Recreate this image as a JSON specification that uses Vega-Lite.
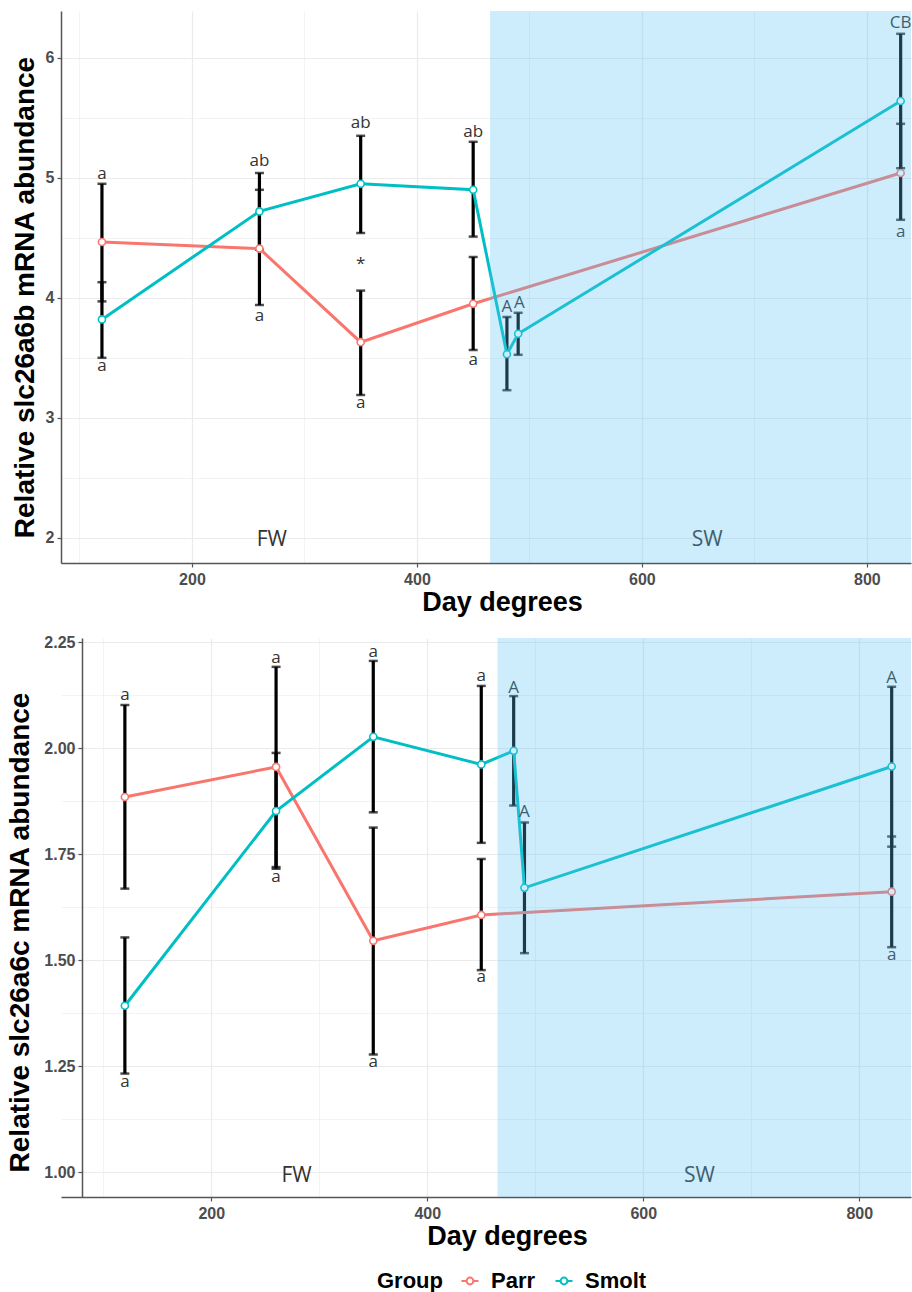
{
  "$schema": "https://vega.github.io/schema/vega-lite/v6.json",
  "background": "white",
  "padding": {"left": 6, "top": 11, "right": 0, "bottom": 0},
  "spacing": 19,
  "datasets": {
    "d1": [
      {"day": 120, "Group": "Parr", "mean": 4.465, "lo": 3.97, "hi": 4.95},
      {"day": 260, "Group": "Parr", "mean": 4.41, "lo": 3.94, "hi": 4.90},
      {"day": 350, "Group": "Parr", "mean": 3.63, "lo": 3.19, "hi": 4.06},
      {"day": 450, "Group": "Parr", "mean": 3.95, "lo": 3.565, "hi": 4.34},
      {"day": 830, "Group": "Parr", "mean": 5.04, "lo": 4.65, "hi": 5.45},
      {"day": 120, "Group": "Smolt", "mean": 3.82, "lo": 3.50, "hi": 4.13},
      {"day": 260, "Group": "Smolt", "mean": 4.72, "lo": 4.40, "hi": 5.04},
      {"day": 350, "Group": "Smolt", "mean": 4.95, "lo": 4.54, "hi": 5.35},
      {"day": 450, "Group": "Smolt", "mean": 4.90, "lo": 4.51, "hi": 5.30},
      {"day": 480, "Group": "Smolt", "mean": 3.53, "lo": 3.23, "hi": 3.84},
      {"day": 490, "Group": "Smolt", "mean": 3.70, "lo": 3.525, "hi": 3.875},
      {"day": 830, "Group": "Smolt", "mean": 5.64, "lo": 5.08, "hi": 6.20}
    ],
    "t1": [
      {"day": 120, "y": 5.03, "label": "a"},
      {"day": 120, "y": 3.43, "label": "a"},
      {"day": 260, "y": 5.14, "label": "ab"},
      {"day": 260, "y": 3.85, "label": "a"},
      {"day": 350, "y": 5.46, "label": "ab"},
      {"day": 350, "y": 4.28, "label": "*"},
      {"day": 350, "y": 3.12, "label": "a"},
      {"day": 450, "y": 5.38, "label": "ab"},
      {"day": 450, "y": 3.48, "label": "a"},
      {"day": 480, "y": 3.92, "label": "A"},
      {"day": 491, "y": 3.96, "label": "A"},
      {"day": 830, "y": 6.29, "label": "CB"},
      {"day": 830, "y": 4.55, "label": "a"}
    ],
    "r1": [
      {"zone": "FW", "day": 271, "y": 1.98},
      {"zone": "SW", "day": 658, "y": 1.98}
    ],
    "d2": [
      {"day": 120, "Group": "Parr", "mean": 1.885, "lo": 1.669, "hi": 2.102},
      {"day": 260, "Group": "Parr", "mean": 1.956, "lo": 1.72, "hi": 2.192},
      {"day": 350, "Group": "Parr", "mean": 1.546, "lo": 1.278, "hi": 1.813},
      {"day": 450, "Group": "Parr", "mean": 1.607, "lo": 1.477, "hi": 1.739},
      {"day": 830, "Group": "Parr", "mean": 1.662, "lo": 1.531, "hi": 1.792},
      {"day": 120, "Group": "Smolt", "mean": 1.393, "lo": 1.233, "hi": 1.554},
      {"day": 260, "Group": "Smolt", "mean": 1.852, "lo": 1.716, "hi": 1.989},
      {"day": 350, "Group": "Smolt", "mean": 2.027, "lo": 1.849, "hi": 2.206},
      {"day": 450, "Group": "Smolt", "mean": 1.962, "lo": 1.777, "hi": 2.147},
      {"day": 480, "Group": "Smolt", "mean": 1.994, "lo": 1.865, "hi": 2.123},
      {"day": 490, "Group": "Smolt", "mean": 1.671, "lo": 1.517, "hi": 1.825},
      {"day": 830, "Group": "Smolt", "mean": 1.957, "lo": 1.768, "hi": 2.145}
    ],
    "t2": [
      {"day": 120, "y": 2.125, "label": "a"},
      {"day": 120, "y": 1.213, "label": "a"},
      {"day": 260, "y": 2.212, "label": "a"},
      {"day": 260, "y": 1.696, "label": "a"},
      {"day": 350, "y": 2.228, "label": "a"},
      {"day": 350, "y": 1.26, "label": "a"},
      {"day": 450, "y": 2.17, "label": "a"},
      {"day": 450, "y": 1.461, "label": "a"},
      {"day": 480, "y": 2.142, "label": "A"},
      {"day": 490, "y": 1.849, "label": "A"},
      {"day": 830, "y": 2.165, "label": "A"},
      {"day": 830, "y": 1.513, "label": "a"}
    ],
    "r2": [
      {"zone": "FW", "day": 279, "y": 0.991},
      {"zone": "SW", "day": 652, "y": 0.991}
    ],
    "shade": [{"start": 465, "end": 1000}]
  },
  "vconcat": [
    {
      "width": 850,
      "height": 552,
      "layer": [
        {
          "data": {"name": "d1"},
          "mark": {"type": "rule", "color": "black", "strokeWidth": 3.2},
          "encoding": {
            "x": {"field": "day", "type": "quantitative", "scale": {"domain": [83.6, 839.2], "nice": false, "zero": false},
              "axis": {"title": "Day degrees", "values": [100, 200, 300, 400, 500, 600, 700, 800], "format": "d",
                "labelExpr": "datum.value % 200 == 0 ? datum.label : ''",
                "tickOpacity": {"condition": {"test": "datum.value % 200 == 0", "value": 1}, "value": 0},
                "gridWidth": {"condition": {"test": "datum.value % 200 == 0", "value": 1.2}, "value": 0.6},
                "titleX": 441}},
            "y": {"field": "lo", "type": "quantitative", "scale": {"domain": [1.79, 6.39], "nice": false, "zero": false},
              "axis": {"title": "Relative slc26a6b mRNA abundance", "values": [2, 2.5, 3, 3.5, 4, 4.5, 5, 5.5, 6], "format": ".0f",
                "labelExpr": "datum.value % 1 == 0 ? datum.label : ''",
                "tickOpacity": {"condition": {"test": "datum.value % 1 == 0", "value": 1}, "value": 0},
                "gridWidth": {"condition": {"test": "datum.value % 1 == 0", "value": 1.2}, "value": 0.6},
                "titleX": -22, "titleY": 286}},
            "y2": {"field": "hi"}
          }
        },
        {
          "data": {"name": "d1"},
          "mark": {"type": "tick", "orient": "horizontal", "color": "black", "size": 9, "thickness": 2.5},
          "encoding": {"x": {"field": "day", "type": "quantitative"}, "y": {"field": "lo", "type": "quantitative"}}
        },
        {
          "data": {"name": "d1"},
          "mark": {"type": "tick", "orient": "horizontal", "color": "black", "size": 9, "thickness": 2.5},
          "encoding": {"x": {"field": "day", "type": "quantitative"}, "y": {"field": "hi", "type": "quantitative"}}
        },
        {
          "data": {"name": "d1"},
          "mark": {"type": "line", "strokeWidth": 3},
          "encoding": {
            "x": {"field": "day", "type": "quantitative"},
            "y": {"field": "mean", "type": "quantitative"},
            "color": {"field": "Group", "type": "nominal", "title": "Group", "scale": {"domain": ["Parr", "Smolt"], "range": ["#F8766D", "#00BFC4"]}},
            "order": {"field": "day", "type": "quantitative"}
          }
        },
        {
          "data": {"name": "d1"},
          "mark": {"type": "point", "filled": false, "fill": "white", "fillOpacity": 1, "opacity": 1, "size": 50, "strokeWidth": 1.6},
          "encoding": {
            "x": {"field": "day", "type": "quantitative"},
            "y": {"field": "mean", "type": "quantitative"},
            "color": {"field": "Group", "type": "nominal", "title": "Group", "scale": {"domain": ["Parr", "Smolt"], "range": ["#F8766D", "#00BFC4"]}}
          }
        },
        {
          "data": {"name": "t1"},
          "mark": {"type": "text", "font": "Open Sans", "fontSize": 17, "color": "#333", "baseline": "middle"},
          "encoding": {
            "x": {"field": "day", "type": "quantitative"},
            "y": {"field": "y", "type": "quantitative"},
            "text": {"field": "label"}
          }
        },
        {
          "data": {"name": "r1"},
          "mark": {"type": "text", "font": "Open Sans", "fontSize": 21, "color": "#333", "baseline": "middle"},
          "encoding": {
            "x": {"field": "day", "type": "quantitative"},
            "y": {"field": "y", "type": "quantitative"},
            "text": {"field": "zone"}
          }
        },
        {
          "data": {"name": "shade"},
          "mark": {"type": "rect", "color": "#5bc4f5", "opacity": 0.3, "clip": true},
          "encoding": {
            "x": {"field": "start", "type": "quantitative"},
            "x2": {"field": "end"}
          }
        }
      ]
    },
    {
      "width": 850,
      "height": 559,
      "layer": [
        {
          "data": {"name": "d2"},
          "mark": {"type": "rule", "color": "black", "strokeWidth": 3.2},
          "encoding": {
            "x": {"field": "day", "type": "quantitative", "scale": {"domain": [60.86, 847.9], "nice": false, "zero": false},
              "axis": {"title": "Day degrees", "values": [100, 200, 300, 400, 500, 600, 700, 800], "format": "d",
                "labelExpr": "datum.value % 200 == 0 ? datum.label : ''",
                "tickOpacity": {"condition": {"test": "datum.value % 200 == 0", "value": 1}, "value": 0},
                "gridWidth": {"condition": {"test": "datum.value % 200 == 0", "value": 1.2}, "value": 0.6},
                "titleX": 446}},
            "y": {"field": "lo", "type": "quantitative", "scale": {"domain": [0.942, 2.26], "nice": false, "zero": false},
              "axis": {"title": "Relative slc26a6c mRNA abundance", "values": [1, 1.125, 1.25, 1.375, 1.5, 1.625, 1.75, 1.875, 2, 2.125, 2.25], "format": ".2f",
                "labelExpr": "(datum.value * 4) % 1 == 0 ? datum.label : ''",
                "tickOpacity": {"condition": {"test": "(datum.value * 4) % 1 == 0", "value": 1}, "value": 0},
                "gridWidth": {"condition": {"test": "(datum.value * 4) % 1 == 0", "value": 1.2}, "value": 0.6},
                "offset": -21,
                "titleX": -48, "titleY": 294}},
            "y2": {"field": "hi"}
          }
        },
        {
          "data": {"name": "d2"},
          "mark": {"type": "tick", "orient": "horizontal", "color": "black", "size": 9, "thickness": 2.5},
          "encoding": {"x": {"field": "day", "type": "quantitative"}, "y": {"field": "lo", "type": "quantitative"}}
        },
        {
          "data": {"name": "d2"},
          "mark": {"type": "tick", "orient": "horizontal", "color": "black", "size": 9, "thickness": 2.5},
          "encoding": {"x": {"field": "day", "type": "quantitative"}, "y": {"field": "hi", "type": "quantitative"}}
        },
        {
          "data": {"name": "d2"},
          "mark": {"type": "line", "strokeWidth": 3},
          "encoding": {
            "x": {"field": "day", "type": "quantitative"},
            "y": {"field": "mean", "type": "quantitative"},
            "color": {"field": "Group", "type": "nominal", "title": "Group", "scale": {"domain": ["Parr", "Smolt"], "range": ["#F8766D", "#00BFC4"]}},
            "order": {"field": "day", "type": "quantitative"}
          }
        },
        {
          "data": {"name": "d2"},
          "mark": {"type": "point", "filled": false, "fill": "white", "fillOpacity": 1, "opacity": 1, "size": 50, "strokeWidth": 1.6},
          "encoding": {
            "x": {"field": "day", "type": "quantitative"},
            "y": {"field": "mean", "type": "quantitative"},
            "color": {"field": "Group", "type": "nominal", "title": "Group", "scale": {"domain": ["Parr", "Smolt"], "range": ["#F8766D", "#00BFC4"]}}
          }
        },
        {
          "data": {"name": "t2"},
          "mark": {"type": "text", "font": "Open Sans", "fontSize": 17, "color": "#333", "baseline": "middle"},
          "encoding": {
            "x": {"field": "day", "type": "quantitative"},
            "y": {"field": "y", "type": "quantitative"},
            "text": {"field": "label"}
          }
        },
        {
          "data": {"name": "r2"},
          "mark": {"type": "text", "font": "Open Sans", "fontSize": 21, "color": "#333", "baseline": "middle"},
          "encoding": {
            "x": {"field": "day", "type": "quantitative"},
            "y": {"field": "y", "type": "quantitative"},
            "text": {"field": "zone"}
          }
        },
        {
          "data": {"name": "shade"},
          "mark": {"type": "rect", "color": "#5bc4f5", "opacity": 0.3, "clip": true},
          "encoding": {
            "x": {"field": "start", "type": "quantitative"},
            "x2": {"field": "end"}
          }
        }
      ]
    }
  ],
  "config": {
    "view": {"stroke": null},
    "axis": {
      "labelFont": "Liberation Sans", "labelFontWeight": "bold", "labelFontSize": 16, "labelColor": "#4d4d4d",
      "titleFont": "Liberation Sans", "titleFontWeight": "bold", "titleFontSize": 27, "titleColor": "#000",
      "domainColor": "#555", "domainWidth": 1.5, "tickColor": "#555", "tickSize": 4, "tickWidth": 1.2,
      "gridColor": "#ebebeb", "labelPadding": 3
    },
    "axisX": {"titlePadding": 2, "labelPadding": 4},
    "axisY": {"titlePadding": 5, "titleFontSize": 28},
    "legend": {
      "orient": "none", "legendX": 316, "legendY": 1259,
      "direction": "horizontal", "titleOrient": "left",
      "titleFont": "Liberation Sans", "titleFontSize": 22, "titleFontWeight": "bold", "titleColor": "#000",
      "labelFont": "Liberation Sans", "labelFontSize": 22, "labelFontWeight": "bold", "labelColor": "#000",
      "symbolType": "M-1,0H-0.4M0.4,0H1M-0.4,0A0.4,0.4,0,1,1,0.4,0A0.4,0.4,0,1,1,-0.4,0Z",
      "symbolSize": 289, "symbolStrokeWidth": 2, "symbolFillColor": "white",
      "labelOffset": 10, "columnPadding": 15, "titlePadding": 16
    }
  }
}
